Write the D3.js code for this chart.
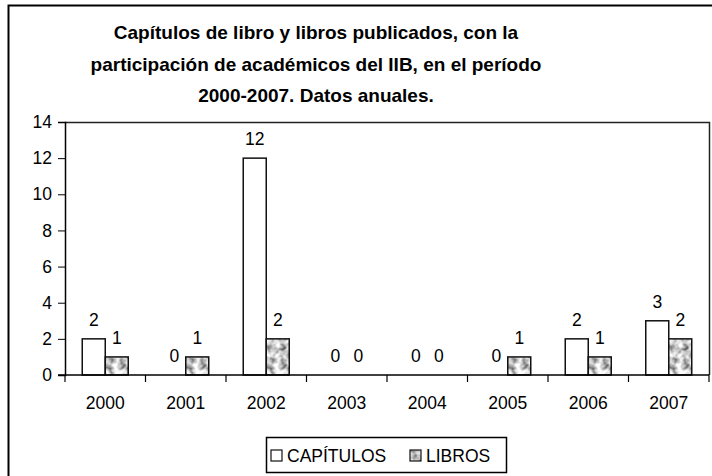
<!DOCTYPE html>
<html>
<head>
<meta charset="utf-8">
<script src="https://cdn.jsdelivr.net/npm/d3@7"></script>
<style>
  body { margin: 0; background: #fff; }
  svg { display: block; font-family: "Liberation Sans", Arial, sans-serif; }
</style>
</head>
<body>
<script>
"use strict";
(function(){
    const years = ["2000", "2001", "2002", "2003", "2004", "2005", "2006", "2007"]
    const capitulos = [2, 0, 12, 0, 0, 0, 2, 3]
    const libros = [1, 1, 2, 0, 0, 1, 1, 2]
    const seriesNames = ["CAPÍTULOS", "LIBROS"]
    const yTicks = [0, 2, 4, 6, 8, 10, 12, 14]
    const titleLines = [
        "Capítulos de libro y libros publicados, con la",
        "participación de académicos del IIB, en el período",
        "2000-2007. Datos anuales."
    ]

    const measurements = {
        width: 712,
        height: 476,
        plotLeft: 65,
        plotRight: 709,
        plotTop: 122,
        plotBottom: 375,
        fontSize: "17.5px"
    }

    const svg = d3.select("body").append("svg")
        .attr("width", measurements.width)
        .attr("height", measurements.height)

    // gray mottled texture for LIBROS
    const defs = svg.append("defs")
    const filter = defs.append("filter").attr("id", "mottle")
        .attr("x", 0).attr("y", 0).attr("width", 1).attr("height", 1)
    filter.append("feTurbulence")
        .attr("type", "fractalNoise").attr("baseFrequency", 0.16)
        .attr("numOctaves", 2).attr("seed", 7).attr("result", "noise")
    filter.append("feColorMatrix").attr("in", "noise").attr("type", "matrix")
        .attr("values", "2 0 0 0 -0.38  2 0 0 0 -0.38  2 0 0 0 -0.38  0 0 0 0 1")
    const pattern = defs.append("pattern").attr("id", "librosFill")
        .attr("patternUnits", "userSpaceOnUse").attr("width", 80).attr("height", 80)
    pattern.append("rect").attr("width", 80).attr("height", 80).attr("filter", "url(#mottle)")
    const fills = ["#ffffff", "url(#librosFill)"]

    // outer chart frame (cropped at right and bottom)
    svg.append("rect")
        .attr("x", 8.5).attr("y", 5.5)
        .attr("width", 760).attr("height", 520)
        .attr("fill", "none").attr("stroke", "#000").attr("stroke-width", 2)

    // title
    svg.append("g").selectAll("text")
        .data(titleLines)
        .enter()
        .append("text")
            .attr("x", 316)
            .attr("y", (d, i) => 39 + i * 31.5)
            .attr("text-anchor", "middle")
            .style("font-weight", "bold")
            .style("font-size", "19px")
            .text(d => d)

    const scaleX = d3.scaleBand()
        .domain(years)
        .range([measurements.plotLeft, measurements.plotRight])
        .paddingInner(0.4286)
        .paddingOuter(0.2143)
    const scaleSeries = d3.scaleBand()
        .domain(seriesNames)
        .range([0, scaleX.bandwidth()])
    const scaleY = d3.scaleLinear()
        .domain([0, 14])
        .range([measurements.plotBottom, measurements.plotTop])

    // plot area border (top and right)
    svg.append("path")
        .attr("d", `M${measurements.plotLeft},${measurements.plotTop + 0.5}H${measurements.plotRight + 0.5}V${measurements.plotBottom}`)
        .attr("fill", "none").attr("stroke", "#222").attr("stroke-width", 1.5)

    // y axis
    const yAxis = d3.axisLeft(scaleY).tickValues(yTicks).tickSize(7).tickPadding(6)
    const gy = svg.append("g")
        .attr("transform", `translate(${measurements.plotLeft},0)`)
        .call(yAxis)
    gy.select(".domain").attr("stroke", "#000").attr("stroke-width", 1.5)
    gy.selectAll("text").style("font-size", measurements.fontSize).attr("fill", "#000")
        .attr("font-family", "Liberation Sans, Arial, sans-serif")

    // data
    const rows = years.map((y, i) => ({ year: y, values: [capitulos[i], libros[i]] }))

    const groups = svg.append("g").selectAll("g")
        .data(rows)
        .enter()
        .append("g")
            .attr("transform", d => `translate(${scaleX(d.year)},0)`)

    groups.selectAll("rect")
        .data(d => d.values.map((v, k) => ({ key: seriesNames[k], value: v, k: k })))
        .enter()
        .filter(d => d.value > 0)
        .append("rect")
            .attr("x", d => scaleSeries(d.key))
            .attr("y", d => scaleY(d.value))
            .attr("width", scaleSeries.bandwidth())
            .attr("height", d => scaleY(0) - scaleY(d.value))
            .attr("fill", d => fills[d.k])
            .attr("stroke", "#111")
            .attr("stroke-width", 1.5)

    groups.selectAll("text")
        .data(d => d.values.map((v, k) => ({ key: seriesNames[k], value: v })))
        .enter()
        .append("text")
            .attr("x", d => scaleSeries(d.key) + scaleSeries.bandwidth() / 2)
            .attr("y", d => scaleY(d.value) - 13)
            .attr("text-anchor", "middle")
            .style("font-size", measurements.fontSize)
            .text(d => d.value)

    // x axis with ticks between categories
    const gx = svg.append("g")
        .attr("transform", `translate(0,${measurements.plotBottom})`)
    gx.append("line")
        .attr("x1", measurements.plotLeft - 7).attr("x2", measurements.plotRight)
        .attr("stroke", "#000").attr("stroke-width", 1.5)
    const step = scaleX.step()
    const boundaries = years.map(y => scaleX(y) - scaleX.paddingOuter() * step).concat([measurements.plotRight])
    gx.selectAll(".tick")
        .data(boundaries)
        .enter()
        .append("line")
            .attr("x1", d => d).attr("x2", d => d)
            .attr("y1", 0).attr("y2", 7)
            .attr("stroke", "#000").attr("stroke-width", 1.2)
    gx.selectAll(".lbl")
        .data(years)
        .enter()
        .append("text")
            .attr("x", d => scaleX(d) + scaleX.bandwidth() / 2)
            .attr("y", 34)
            .attr("text-anchor", "middle")
            .style("font-size", measurements.fontSize)
            .text(d => d)

    // legend
    const legend = svg.append("g")
    legend.append("rect")
        .attr("x", 266.5).attr("y", 437.5)
        .attr("width", 240).attr("height", 35)
        .attr("fill", "#fff").attr("stroke", "#000").attr("stroke-width", 1.5)
    const legendX = [271, 410]
    seriesNames.forEach((name, i) => {
        legend.append("rect")
            .attr("x", legendX[i]).attr("y", 450)
            .attr("width", 11).attr("height", 11)
            .attr("fill", fills[i]).attr("stroke", "#111").attr("stroke-width", 1.2)
        legend.append("text")
            .attr("x", legendX[i] + 16).attr("y", 462)
            .style("font-size", measurements.fontSize)
            .text(name)
    })
})()
</script>
</body>
</html>
